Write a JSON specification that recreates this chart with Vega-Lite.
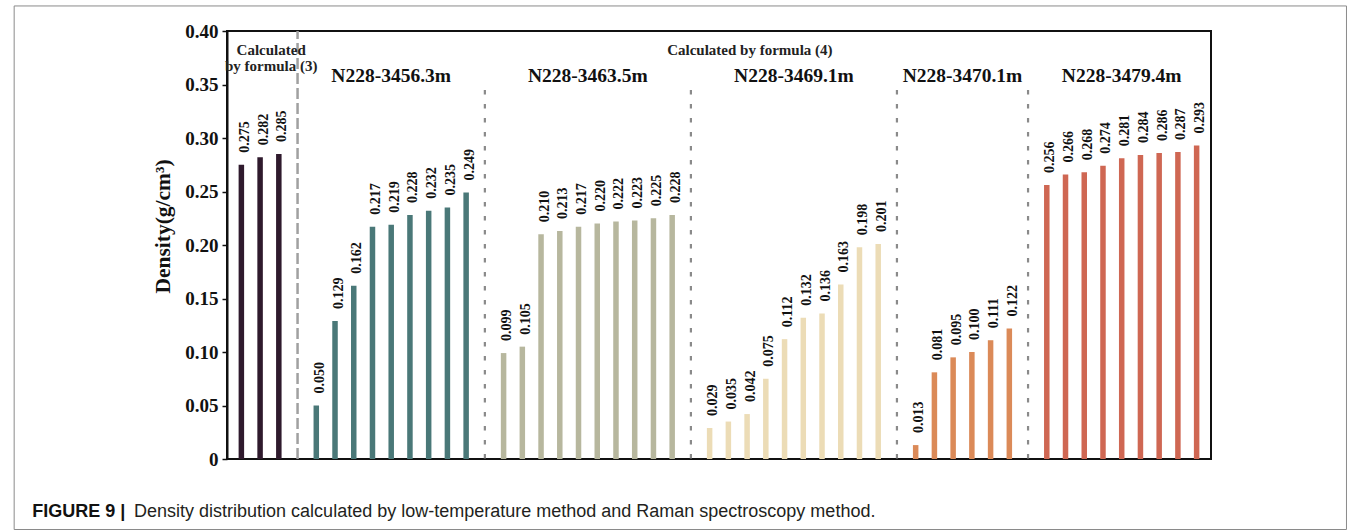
{
  "$schema": "https://vega.github.io/schema/vega-lite/v6.json",
  "width": 984,
  "height": 428,
  "autosize": {"type": "none"},
  "padding": {"left": 227, "top": 31, "right": 145, "bottom": 71},
  "background": "white",
  "config": {
    "view": {"stroke": "#111111", "strokeWidth": 2},
    "axisY": {
      "labelFont": "Liberation Serif", "labelFontWeight": "bold", "labelFontSize": 19, "labelColor": "#111111",
      "labelPadding": 4, "labelOverlap": false,
      "tickColor": "#111111", "tickSize": 5, "tickWidth": 1.5,
      "domainColor": "#111111", "domainWidth": 2, "grid": false,
      "titleFont": "Liberation Serif", "titleFontWeight": "bold", "titleFontSize": 21.5, "titleColor": "#111111",
      "titleX": -64, "titleY": 195, "titleAlign": "center", "titleBaseline": "middle", "titleAngle": 270
    }
  },
  "datasets": {
    "bars": [
      {"slot": 0, "density": 0.275, "group": "Formula (3)", "method": "formula (3)"},
      {"slot": 1, "density": 0.282, "group": "Formula (3)", "method": "formula (3)"},
      {"slot": 2, "density": 0.285, "group": "Formula (3)", "method": "formula (3)"},
      {"slot": 4, "density": 0.050, "group": "N228-3456.3m", "method": "formula (4)"},
      {"slot": 5, "density": 0.129, "group": "N228-3456.3m", "method": "formula (4)"},
      {"slot": 6, "density": 0.162, "group": "N228-3456.3m", "method": "formula (4)"},
      {"slot": 7, "density": 0.217, "group": "N228-3456.3m", "method": "formula (4)"},
      {"slot": 8, "density": 0.219, "group": "N228-3456.3m", "method": "formula (4)"},
      {"slot": 9, "density": 0.228, "group": "N228-3456.3m", "method": "formula (4)"},
      {"slot": 10, "density": 0.232, "group": "N228-3456.3m", "method": "formula (4)"},
      {"slot": 11, "density": 0.235, "group": "N228-3456.3m", "method": "formula (4)"},
      {"slot": 12, "density": 0.249, "group": "N228-3456.3m", "method": "formula (4)"},
      {"slot": 14, "density": 0.099, "group": "N228-3463.5m", "method": "formula (4)"},
      {"slot": 15, "density": 0.105, "group": "N228-3463.5m", "method": "formula (4)"},
      {"slot": 16, "density": 0.210, "group": "N228-3463.5m", "method": "formula (4)"},
      {"slot": 17, "density": 0.213, "group": "N228-3463.5m", "method": "formula (4)"},
      {"slot": 18, "density": 0.217, "group": "N228-3463.5m", "method": "formula (4)"},
      {"slot": 19, "density": 0.220, "group": "N228-3463.5m", "method": "formula (4)"},
      {"slot": 20, "density": 0.222, "group": "N228-3463.5m", "method": "formula (4)"},
      {"slot": 21, "density": 0.223, "group": "N228-3463.5m", "method": "formula (4)"},
      {"slot": 22, "density": 0.225, "group": "N228-3463.5m", "method": "formula (4)"},
      {"slot": 23, "density": 0.228, "group": "N228-3463.5m", "method": "formula (4)"},
      {"slot": 25, "density": 0.029, "group": "N228-3469.1m", "method": "formula (4)"},
      {"slot": 26, "density": 0.035, "group": "N228-3469.1m", "method": "formula (4)"},
      {"slot": 27, "density": 0.042, "group": "N228-3469.1m", "method": "formula (4)"},
      {"slot": 28, "density": 0.075, "group": "N228-3469.1m", "method": "formula (4)"},
      {"slot": 29, "density": 0.112, "group": "N228-3469.1m", "method": "formula (4)"},
      {"slot": 30, "density": 0.132, "group": "N228-3469.1m", "method": "formula (4)"},
      {"slot": 31, "density": 0.136, "group": "N228-3469.1m", "method": "formula (4)"},
      {"slot": 32, "density": 0.163, "group": "N228-3469.1m", "method": "formula (4)"},
      {"slot": 33, "density": 0.198, "group": "N228-3469.1m", "method": "formula (4)"},
      {"slot": 34, "density": 0.201, "group": "N228-3469.1m", "method": "formula (4)"},
      {"slot": 36, "density": 0.013, "group": "N228-3470.1m", "method": "formula (4)"},
      {"slot": 37, "density": 0.081, "group": "N228-3470.1m", "method": "formula (4)"},
      {"slot": 38, "density": 0.095, "group": "N228-3470.1m", "method": "formula (4)"},
      {"slot": 39, "density": 0.100, "group": "N228-3470.1m", "method": "formula (4)"},
      {"slot": 40, "density": 0.111, "group": "N228-3470.1m", "method": "formula (4)"},
      {"slot": 41, "density": 0.122, "group": "N228-3470.1m", "method": "formula (4)"},
      {"slot": 43, "density": 0.256, "group": "N228-3479.4m", "method": "formula (4)"},
      {"slot": 44, "density": 0.266, "group": "N228-3479.4m", "method": "formula (4)"},
      {"slot": 45, "density": 0.268, "group": "N228-3479.4m", "method": "formula (4)"},
      {"slot": 46, "density": 0.274, "group": "N228-3479.4m", "method": "formula (4)"},
      {"slot": 47, "density": 0.281, "group": "N228-3479.4m", "method": "formula (4)"},
      {"slot": 48, "density": 0.284, "group": "N228-3479.4m", "method": "formula (4)"},
      {"slot": 49, "density": 0.286, "group": "N228-3479.4m", "method": "formula (4)"},
      {"slot": 50, "density": 0.287, "group": "N228-3479.4m", "method": "formula (4)"},
      {"slot": 51, "density": 0.293, "group": "N228-3479.4m", "method": "formula (4)"}
    ],
    "separators": [
      {"slot": 3, "kind": "method"},
      {"slot": 13, "kind": "sample"},
      {"slot": 24, "kind": "sample"},
      {"slot": 35, "kind": "sample"},
      {"slot": 42, "kind": "sample"}
    ]
  },
  "layer": [
    {
      "data": {"values": [{}]},
      "mark": {"type": "rect", "filled": false, "stroke": "#8a8a8a", "strokeWidth": 1},
      "encoding": {
        "x": {"datum": -12.13, "type": "quantitative", "scale": {"domain": [-0.5, 51.5], "nice": false, "zero": false}, "axis": null},
        "x2": {"datum": 59.0},
        "y": {"datum": 0.4234, "type": "quantitative", "scale": {"domain": [0, 0.4], "nice": false},
              "axis": {"title": "Density(g/cm³)", "values": [0, 0.05, 0.1, 0.15, 0.2, 0.25, 0.3, 0.35, 0.4], "labelExpr": "datum.value === 0 ? '0' : format(datum.value, '.2f')"}},
        "y2": {"datum": -0.0659}
      }
    },
    {
      "data": {"name": "separators"},
      "transform": [{"filter": "datum.kind === 'method'"}],
      "mark": {"type": "rule", "stroke": "#a0a0a0", "strokeWidth": 2.5, "strokeDash": [11, 4]},
      "encoding": {
        "x": {"field": "slot", "type": "quantitative", "scale": {"domain": [-0.5, 51.5], "nice": false, "zero": false}, "axis": null},
        "y": {"datum": 0, "type": "quantitative", "scale": {"domain": [0, 0.4], "nice": false},
              "axis": {"title": "Density(g/cm³)", "values": [0, 0.05, 0.1, 0.15, 0.2, 0.25, 0.3, 0.35, 0.4], "labelExpr": "datum.value === 0 ? '0' : format(datum.value, '.2f')"}},
        "y2": {"datum": 0.4}
      }
    },
    {
      "data": {"name": "separators"},
      "transform": [{"filter": "datum.kind === 'sample'"}],
      "mark": {"type": "rule", "stroke": "#8a8a8a", "strokeWidth": 2.2, "strokeDash": [4.5, 9.5]},
      "encoding": {
        "x": {"field": "slot", "type": "quantitative", "scale": {"domain": [-0.5, 51.5], "nice": false, "zero": false}, "axis": null},
        "y": {"datum": 0.3449, "type": "quantitative", "scale": {"domain": [0, 0.4], "nice": false},
              "axis": {"title": "Density(g/cm³)", "values": [0, 0.05, 0.1, 0.15, 0.2, 0.25, 0.3, 0.35, 0.4], "labelExpr": "datum.value === 0 ? '0' : format(datum.value, '.2f')"}},
        "y2": {"datum": 0}
      }
    },
    {
      "data": {"name": "bars"},
      "mark": {"type": "bar", "width": 5.5, "orient": "vertical"},
      "encoding": {
        "x": {"field": "slot", "type": "quantitative", "scale": {"domain": [-0.5, 51.5], "nice": false, "zero": false}, "axis": null},
        "y": {"field": "density", "type": "quantitative", "scale": {"domain": [0, 0.4], "nice": false},
              "axis": {"title": "Density(g/cm³)", "values": [0, 0.05, 0.1, 0.15, 0.2, 0.25, 0.3, 0.35, 0.4], "labelExpr": "datum.value === 0 ? '0' : format(datum.value, '.2f')"}},
        "color": {
          "field": "group", "type": "nominal",
          "scale": {
            "domain": ["Formula (3)", "N228-3456.3m", "N228-3463.5m", "N228-3469.1m", "N228-3470.1m", "N228-3479.4m"],
            "range": ["#2f1a2d", "#4a7878", "#b7b79e", "#ecdcb6", "#db8a58", "#cf6753"]
          },
          "legend": null
        }
      }
    },
    {
      "data": {"name": "bars"},
      "mark": {"type": "text", "angle": 270, "align": "left", "baseline": "middle", "dx": 12, "dy": 3.5, "font": "Liberation Serif", "fontWeight": "bold", "fontSize": 14, "color": "#111111"},
      "encoding": {
        "x": {"field": "slot", "type": "quantitative", "scale": {"domain": [-0.5, 51.5], "nice": false, "zero": false}, "axis": null},
        "y": {"field": "density", "type": "quantitative", "scale": {"domain": [0, 0.4], "nice": false},
              "axis": {"title": "Density(g/cm³)", "values": [0, 0.05, 0.1, 0.15, 0.2, 0.25, 0.3, 0.35, 0.4], "labelExpr": "datum.value === 0 ? '0' : format(datum.value, '.2f')"}},
        "text": {"field": "density", "type": "quantitative", "format": ".3f"}
      }
    },
    {
      "data": {"name": "bars"},
      "transform": [
        {"filter": "datum.method === 'formula (4)'"},
        {"aggregate": [{"op": "mean", "field": "slot", "as": "slot"}], "groupby": ["group"]}
      ],
      "mark": {"type": "text", "align": "center", "baseline": "middle", "font": "Liberation Serif", "fontWeight": "bold", "fontSize": 19.5, "color": "#111111"},
      "encoding": {
        "x": {"field": "slot", "type": "quantitative", "scale": {"domain": [-0.5, 51.5], "nice": false, "zero": false}, "axis": null},
        "y": {"datum": 0.358, "type": "quantitative", "scale": {"domain": [0, 0.4], "nice": false},
              "axis": {"title": "Density(g/cm³)", "values": [0, 0.05, 0.1, 0.15, 0.2, 0.25, 0.3, 0.35, 0.4], "labelExpr": "datum.value === 0 ? '0' : format(datum.value, '.2f')"}},
        "text": {"field": "group"}
      }
    },
    {
      "data": {"values": [{}]},
      "mark": {"type": "text", "align": "center", "baseline": "middle", "font": "Liberation Serif", "fontWeight": "bold", "fontSize": 15, "color": "#222222", "text": "Calculated by formula (4)"},
      "encoding": {
        "x": {"datum": 27.15, "type": "quantitative", "scale": {"domain": [-0.5, 51.5], "nice": false, "zero": false}, "axis": null},
        "y": {"datum": 0.3822, "type": "quantitative", "scale": {"domain": [0, 0.4], "nice": false},
              "axis": {"title": "Density(g/cm³)", "values": [0, 0.05, 0.1, 0.15, 0.2, 0.25, 0.3, 0.35, 0.4], "labelExpr": "datum.value === 0 ? '0' : format(datum.value, '.2f')"}}
      }
    },
    {
      "data": {"values": [{}]},
      "mark": {"type": "text", "align": "center", "baseline": "middle", "lineHeight": 16, "font": "Liberation Serif", "fontWeight": "bold", "fontSize": 15, "color": "#222222", "text": ["Calculated", "by formula (3)"]},
      "encoding": {
        "x": {"datum": 1.59, "type": "quantitative", "scale": {"domain": [-0.5, 51.5], "nice": false, "zero": false}, "axis": null},
        "y": {"datum": 0.382, "type": "quantitative", "scale": {"domain": [0, 0.4], "nice": false},
              "axis": {"title": "Density(g/cm³)", "values": [0, 0.05, 0.1, 0.15, 0.2, 0.25, 0.3, 0.35, 0.4], "labelExpr": "datum.value === 0 ? '0' : format(datum.value, '.2f')"}}
      }
    },
    {
      "data": {"values": [{}]},
      "mark": {"type": "text", "align": "left", "baseline": "middle", "font": "Liberation Sans", "fontWeight": "bold", "fontSize": 18, "color": "#111111", "text": "FIGURE 9 |"},
      "encoding": {
        "x": {"datum": -11.17, "type": "quantitative", "scale": {"domain": [-0.5, 51.5], "nice": false, "zero": false}, "axis": null},
        "y": {"datum": -0.0495, "type": "quantitative", "scale": {"domain": [0, 0.4], "nice": false},
              "axis": {"title": "Density(g/cm³)", "values": [0, 0.05, 0.1, 0.15, 0.2, 0.25, 0.3, 0.35, 0.4], "labelExpr": "datum.value === 0 ? '0' : format(datum.value, '.2f')"}}
      }
    },
    {
      "data": {"values": [{}]},
      "mark": {"type": "text", "align": "left", "baseline": "middle", "font": "Liberation Sans", "fontWeight": "normal", "fontSize": 18, "color": "#231f20", "text": "Density distribution calculated by low-temperature method and Raman spectroscopy method."},
      "encoding": {
        "x": {"datum": -5.73, "type": "quantitative", "scale": {"domain": [-0.5, 51.5], "nice": false, "zero": false}, "axis": null},
        "y": {"datum": -0.0495, "type": "quantitative", "scale": {"domain": [0, 0.4], "nice": false},
              "axis": {"title": "Density(g/cm³)", "values": [0, 0.05, 0.1, 0.15, 0.2, 0.25, 0.3, 0.35, 0.4], "labelExpr": "datum.value === 0 ? '0' : format(datum.value, '.2f')"}}
      }
    }
  ]
}
